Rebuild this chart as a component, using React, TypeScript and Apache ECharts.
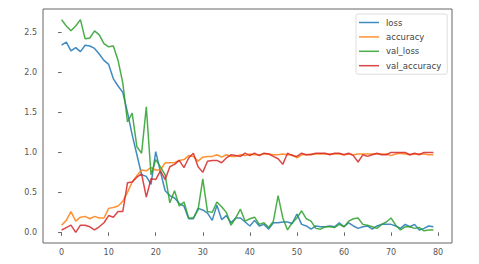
import React, { useEffect, useRef } from "react";
import * as echarts from "echarts";

const epochs: number[] = Array.from({ length: 80 }, (_, i) => i);

const loss: number[] = [
  2.34, 2.38, 2.27, 2.31, 2.26, 2.34, 2.33, 2.30, 2.23, 2.15,
  2.10, 1.92, 1.83, 1.75, 1.50, 1.22, 0.97, 0.72, 0.70, 0.60,
  1.01, 0.76, 0.52, 0.46, 0.43, 0.36, 0.33, 0.17, 0.17, 0.30,
  0.28, 0.24, 0.15, 0.34, 0.16, 0.21, 0.12, 0.18, 0.18, 0.13,
  0.08, 0.15, 0.08, 0.10, 0.04, 0.12, 0.12, 0.13, 0.13, 0.11,
  0.23, 0.10, 0.08, 0.04, 0.08, 0.07, 0.07, 0.08, 0.07, 0.12,
  0.07, 0.12, 0.08, 0.05, 0.07, 0.08, 0.04, 0.08, 0.10, 0.10,
  0.10, 0.08, 0.05, 0.10, 0.07, 0.10, 0.03, 0.05, 0.08, 0.07,
];

const accuracy: number[] = [
  0.09, 0.15, 0.26, 0.14, 0.19, 0.20, 0.17, 0.20, 0.18, 0.18,
  0.30, 0.31, 0.33, 0.39, 0.50, 0.63, 0.71, 0.78, 0.77, 0.81,
  0.78, 0.78, 0.87, 0.87, 0.87, 0.90, 0.91, 0.96, 0.95, 0.89,
  0.94, 0.95, 0.95, 0.97, 0.94, 0.97, 0.95, 0.95, 0.97, 0.96,
  0.98, 0.97, 0.97, 0.98, 0.98, 0.97, 0.97, 0.98, 0.97, 0.97,
  0.93, 0.97, 0.97, 0.98, 0.98, 0.98, 0.98, 0.98, 0.98, 0.98,
  0.97, 0.98, 0.97, 0.98, 0.98, 0.98, 0.98, 0.98, 0.98, 0.98,
  0.96, 0.98, 0.99, 0.98, 0.97, 0.98, 0.98, 0.98, 0.97, 0.97,
];

const valLoss: number[] = [
  2.66, 2.58, 2.52, 2.58, 2.66, 2.42, 2.43, 2.52, 2.47, 2.36,
  2.32, 2.33, 2.15, 1.87, 1.38, 1.49, 1.07, 0.99, 1.57, 0.72,
  0.91, 0.82, 0.72, 0.37, 0.52, 0.33, 0.38, 0.18, 0.18, 0.28,
  0.67, 0.26, 0.25, 0.38, 0.32, 0.25, 0.09, 0.18, 0.29, 0.14,
  0.17, 0.19, 0.10, 0.12, 0.06, 0.14, 0.46, 0.18, 0.03, 0.12,
  0.18, 0.27, 0.17, 0.14, 0.05, 0.04, 0.07, 0.07, 0.06, 0.10,
  0.07, 0.14, 0.17, 0.18, 0.10, 0.09, 0.07, 0.05, 0.10, 0.13,
  0.18, 0.09, 0.03, 0.07, 0.07, 0.05, 0.06, 0.02, 0.03, 0.03,
];

const valAccuracy: number[] = [
  0.03, 0.06, 0.09, 0.00, 0.09, 0.09, 0.07, 0.03, 0.07, 0.12,
  0.21, 0.19, 0.26, 0.26, 0.62, 0.63, 0.69, 0.73, 0.44, 0.67,
  0.66, 0.77, 0.66, 0.82, 0.85, 0.90, 0.81, 0.93, 0.99, 0.82,
  0.75, 0.89, 0.90, 0.90, 0.87, 0.93, 0.97, 0.96, 0.95, 0.99,
  0.96, 0.99, 0.96, 0.99, 0.98, 0.95, 0.92, 0.85, 0.99, 0.96,
  0.95, 0.99, 0.97, 0.97, 0.99, 0.99, 0.99, 0.97, 0.99, 0.99,
  0.97, 0.99, 0.96, 0.88, 0.97, 0.95, 0.97, 0.99, 0.97, 0.97,
  1.00, 1.00, 1.00, 1.00, 0.97, 0.99, 0.97, 1.00, 1.00, 1.00,
];

const xTicks: number[] = [0, 10, 20, 30, 40, 50, 60, 70, 80];
const yTicks: number[] = [0, 0.5, 1.0, 1.5, 2.0, 2.5];

const seriesNames = ["loss", "accuracy", "val_loss", "val_accuracy"];
const seriesData = [loss, accuracy, valLoss, valAccuracy];
const colors = ["#1f77b4", "#ff7f0e", "#2ca02c", "#d62728"];

export default function App() {
  const ref = useRef<HTMLDivElement>(null);
  useEffect(() => {
    if (!ref.current) return;
    const chart = echarts.init(ref.current, undefined, { renderer: "svg" });
    const font = "DejaVu Sans";
    chart.setOption({
      animation: false,
      backgroundColor: "#ffffff",
      color: colors,
      grid: {
        left: 43,
        top: 9,
        width: 409,
        height: 234,
        show: true,
        borderColor: "#666",
        borderWidth: 1,
        backgroundColor: "transparent",
      },
      legend: {
        orient: "vertical",
        left: 356,
        top: 14,
        data: seriesNames,
        icon: "rect",
        itemWidth: 20,
        itemHeight: 1.5,
        itemGap: 5.4,
        padding: [4, 6, 4, 3],
        backgroundColor: "#fff",
        borderColor: "#ddd",
        borderWidth: 1,
        borderRadius: 2,
        textStyle: { fontFamily: font, fontSize: 8.5, color: "#444", padding: [0, 0, 0, 2] },
      },
      xAxis: {
        type: "value",
        min: -3.95,
        max: 82.95,
        axisLine: { show: false },
        splitLine: { show: false },
        axisTick: {
          show: true,
          length: 3.5,
          lineStyle: { color: "#666" },
          customValues: xTicks,
        },
        axisLabel: {
          customValues: xTicks,
          fontFamily: font,
          fontSize: 8,
          color: "#555",
          margin: 5,
          formatter: (v: number) => String(Math.round(v)),
        },
      },
      yAxis: {
        type: "value",
        min: -0.133,
        max: 2.793,
        axisLine: { show: false },
        splitLine: { show: false },
        axisTick: {
          show: true,
          length: 3.5,
          lineStyle: { color: "#666" },
          customValues: yTicks,
        },
        axisLabel: {
          customValues: yTicks,
          fontFamily: font,
          fontSize: 8,
          color: "#555",
          margin: 6,
          formatter: (v: number) => v.toFixed(1),
        },
      },
      series: seriesNames.map((name, i) => ({
        name,
        type: "line",
        data: epochs.map((e, j) => [e, seriesData[i][j]]),
        symbol: "none",
        showSymbol: false,
        lineStyle: { width: 1.5, color: colors[i], opacity: 0.85 },
        itemStyle: { color: colors[i], opacity: 0.85 },
        z: 2 + i,
      })),
    });
    return () => chart.dispose();
  }, []);
  return (
    <div
      ref={ref}
      style={{ position: "fixed", left: 0, top: 0, width: 479, height: 264 }}
    />
  );
}
